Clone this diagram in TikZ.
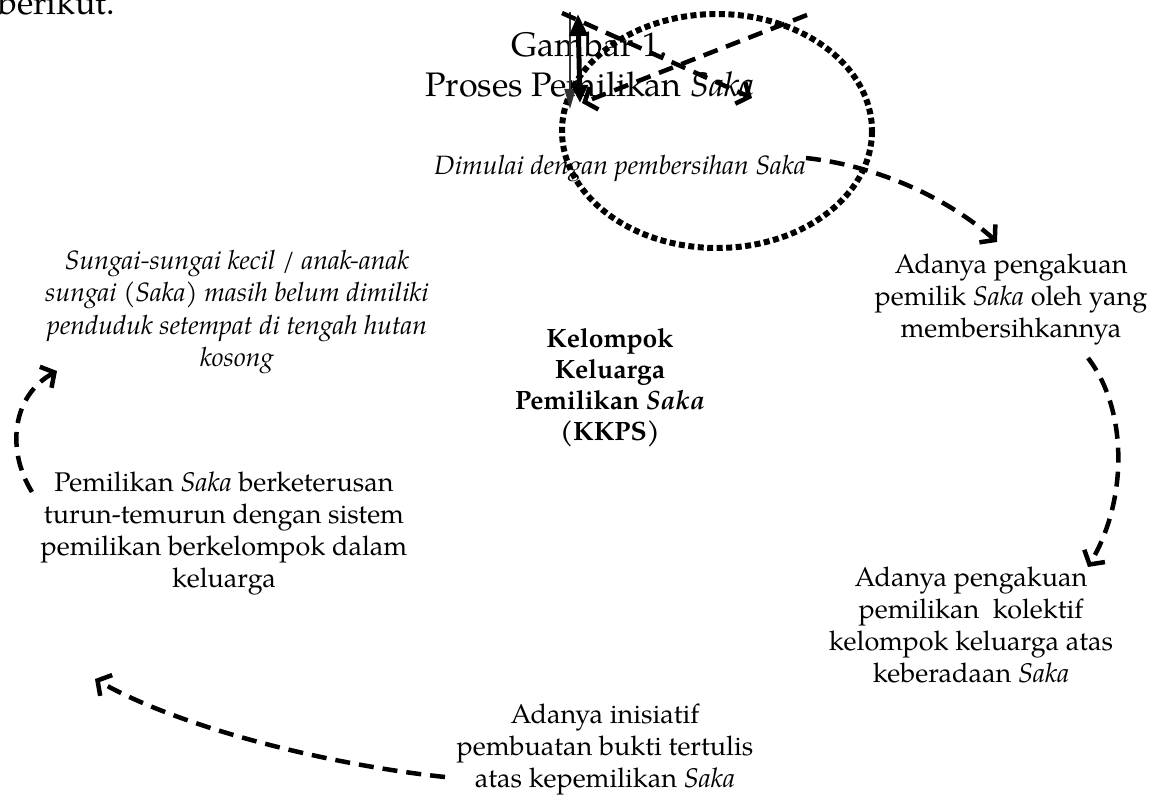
\documentclass[tikz,border=0pt]{standalone}
\usepackage{fontspec}
\setmainfont{texgyrepagella}[Extension=.otf, UprightFont=*-regular, ItalicFont=*-italic, BoldFont=*-bold, BoldItalicFont=*-bolditalic]
\usetikzlibrary{arrows.meta}
\begin{document}
\begin{tikzpicture}[x=1pt,y=-1pt,
  txt/.style={align=center, font=\fontsize{27}{32}\selectfont, inner sep=0pt},
  itxt/.style={align=center, font=\fontsize{26.5}{32.5}\selectfont\itshape, inner sep=0pt},
  big/.style={align=center, font=\fontsize{34}{40}\selectfont, inner sep=0pt},
  conn/.style={line width=4.5pt, dash pattern=on 15pt off 9pt, -{Straight Barb[length=10pt,width=24pt,line width=4.5pt]}},
  dots/.style={line width=6pt, dash pattern=on 6pt off 3.5pt},
]
\useasboundingbox (0,0) rectangle (1154,802);
\clip (0,0) rectangle (1154,802);

\node[big, anchor=base west] (prev) at (-2,15) {berikut.};
\node[big] (title) at (590,65) {Gambar 1.\\Proses Pemilikan \textit{Saka}};
\node[itxt] (start) at (620,168) {Dimulai dengan pembersihan Saka};
\node[txt] (r1) at (1011,300) {Adanya pengakuan\\pemilik \textit{Saka} oleh yang\\membersihkannya};
\node[itxt] (l1) at (237,312) {Sungai-sungai kecil / anak-anak\\sungai (Saka) masih belum dimiliki\\penduduk setempat di tengah hutan\\kosong};
\node[txt, font=\fontsize{26.5}{31}\selectfont\bfseries] (center) at (610,388) {Kelompok\\Keluarga\\Pemilikan \textit{Saka}\\(KKPS)};
\node[txt] (l2) at (224,533) {Pemilikan \textit{Saka} berketerusan\\turun-temurun dengan sistem\\pemilikan berkelompok dalam\\keluarga};
\node[txt] (r2) at (971,625) {Adanya pengakuan\\pemilikan~ kolektif\\kelompok keluarga atas\\keberadaan \textit{Saka}};
\node[txt] (bot) at (605,749) {Adanya inisiatif\\pembuatan bukti tertulis\\atas kepemilikan \textit{Saka}};

% cycle connectors
\coordinate (a1s) at (806,158);
\coordinate (a1e) at (997,242);
\draw[conn] (a1s) .. controls (880,166) and (950,200) .. (a1e);
\coordinate (a2s) at (1088,358);
\coordinate (a2e) at (1088,567);
\draw[conn] (a2s) .. controls (1128,410) and (1128,500) .. (a2e);
\coordinate (a3s) at (445,777);
\coordinate (a3e) at (95,679);
\draw[conn] (a3s) .. controls (330,765) and (180,728) .. (a3e);
\coordinate (a4s) at (32,492);
\coordinate (a4e) at (57,371);
\draw[conn] (a4s) .. controls (6,450) and (12,396) .. (a4e);

% displaced shapes at the top
\draw[dots] (717,131) ellipse [x radius=155, y radius=117];
\coordinate (g1) at (570,12);
\coordinate (g2) at (570,109);
\draw[line width=2pt, black!80, -{Triangle[length=20pt,width=11pt]}] (g1) -- (g2);
\coordinate (k1) at (580,103);
\coordinate (k2) at (578,14);
\draw[line width=5pt, {Triangle[length=18pt,width=16pt]}-{Triangle[length=22pt,width=18pt]}] (k1) -- (k2);
\coordinate (d1s) at (807,15);
\coordinate (d1e) at (582,103);
\draw[conn] (d1s) -- (d1e);
\coordinate (d2s) at (562,13);
\coordinate (d2e) at (752,98);
\draw[conn] (d2s) -- (d2e);
\end{tikzpicture}
\end{document}
